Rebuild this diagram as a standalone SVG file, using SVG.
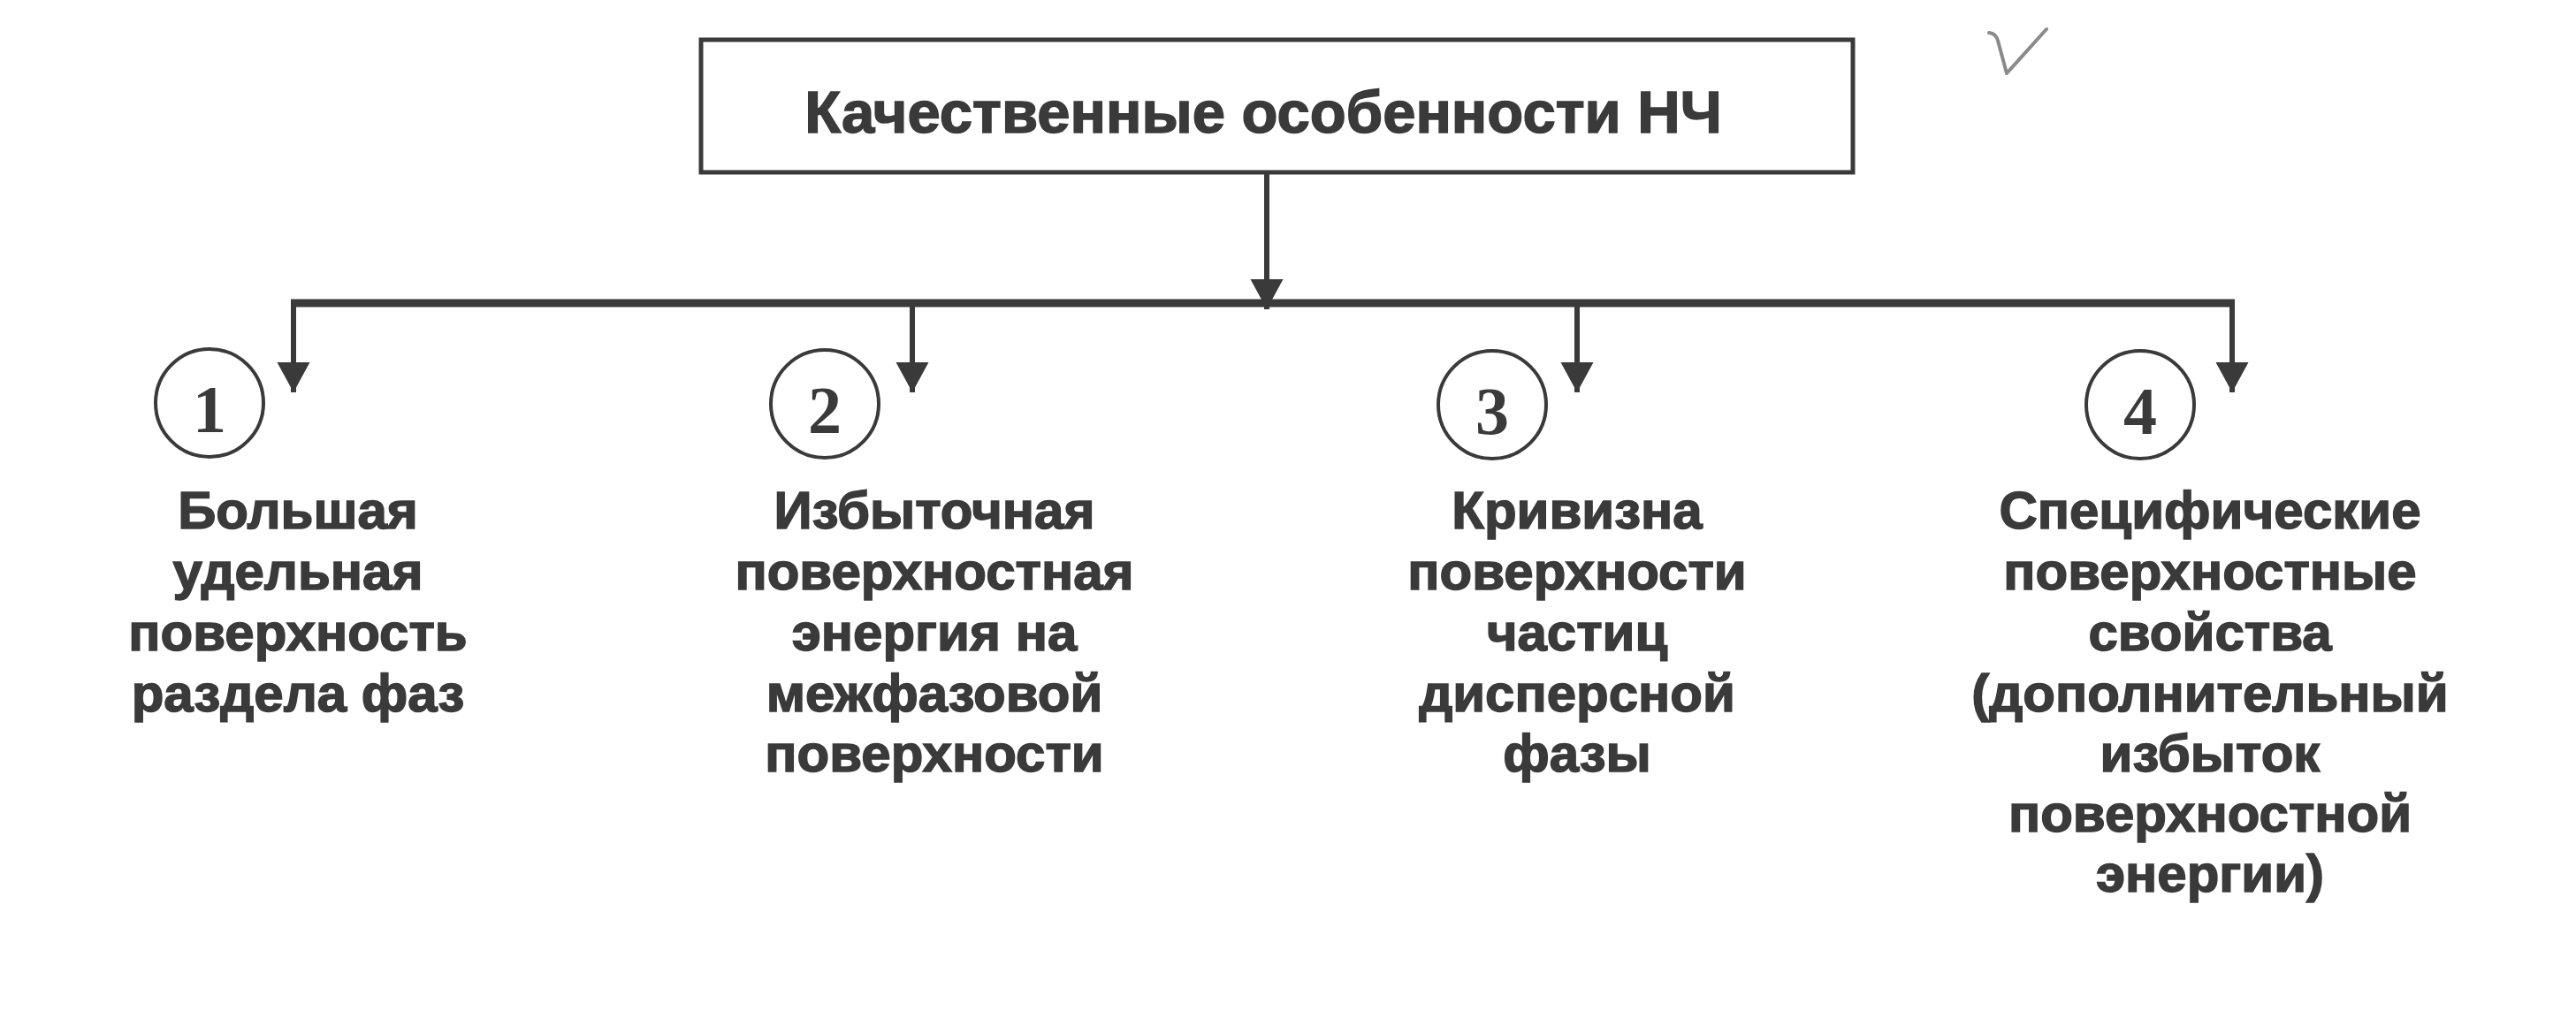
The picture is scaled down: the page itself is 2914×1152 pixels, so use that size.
<svg xmlns="http://www.w3.org/2000/svg" width="2914" height="1152" viewBox="0 0 2914 1152">
<style>
.ln{stroke:#3a3a3a;fill:none;stroke-linecap:butt}
.box{fill:#ffffff;stroke:#3a3a3a;stroke-width:5}
.circ{fill:#ffffff;stroke:#3a3a3a;stroke-width:4}
.t{font-family:"Liberation Sans",Arial,sans-serif;font-weight:bold;fill:#3a3a3a;stroke:#3a3a3a;stroke-width:1.5;text-anchor:middle}
.lab{font-size:60px}
.title{font-size:67px}
.num{font-family:"Liberation Serif","Times New Roman",serif;font-weight:bold;font-size:76px;fill:#3a3a3a;text-anchor:middle}
</style>
<defs>
<marker id="arr" markerUnits="userSpaceOnUse" markerWidth="36" markerHeight="38" refX="34" refY="18.5" orient="auto" viewBox="0 0 36 38">
<path d="M0,0 L34,18.5 L0,37 z" fill="#3a3a3a"/>
</marker>
</defs>
<rect width="2914" height="1152" fill="#ffffff"/>

<g id="connectors">
<line class="ln" x1="1433" y1="195" x2="1433" y2="350" stroke-width="6" marker-end="url(#arr)"/>
<line class="ln" x1="329" y1="343" x2="2528" y2="343" stroke-width="9"/>
<line class="ln" x1="332" y1="343" x2="332" y2="444" stroke-width="6" marker-end="url(#arr)"/>
<line class="ln" x1="1032" y1="343" x2="1032" y2="444" stroke-width="6" marker-end="url(#arr)"/>
<line class="ln" x1="1784" y1="343" x2="1784" y2="444" stroke-width="6" marker-end="url(#arr)"/>
<line class="ln" x1="2525" y1="343" x2="2525" y2="444" stroke-width="6" marker-end="url(#arr)"/>
</g>

<g id="root">
<rect class="box" x="793" y="45" width="1303" height="150"/>
<text class="t title" x="1429" y="150">Качественные особенности НЧ</text>
</g>

<g id="node1">
<circle class="circ" cx="237" cy="456" r="61"/>
<text class="num" x="237" y="489">1</text>
<text class="t lab" x="337"><tspan x="337" y="598">Большая</tspan><tspan x="337" y="667">удельная</tspan><tspan x="337" y="736">поверхность</tspan><tspan x="337" y="805">раздела фаз</tspan></text>
</g>

<g id="node2">
<circle class="circ" cx="933" cy="457" r="61"/>
<text class="num" x="933" y="490">2</text>
<text class="t lab" x="1057"><tspan x="1057" y="598">Избыточная</tspan><tspan x="1057" y="667">поверхностная</tspan><tspan x="1057" y="736">энергия на</tspan><tspan x="1057" y="805">межфазовой</tspan><tspan x="1057" y="873">поверхности</tspan></text>
</g>

<g id="node3">
<circle class="circ" cx="1688" cy="458" r="61"/>
<text class="num" x="1688" y="491">3</text>
<text class="t lab" x="1784"><tspan x="1784" y="598">Кривизна</tspan><tspan x="1784" y="667">поверхности</tspan><tspan x="1784" y="736">частиц</tspan><tspan x="1784" y="805">дисперсной</tspan><tspan x="1784" y="873">фазы</tspan></text>
</g>

<g id="node4">
<circle class="circ" cx="2421" cy="458" r="61"/>
<text class="num" x="2421" y="491">4</text>
<text class="t lab" x="2500"><tspan x="2500" y="598">Специфические</tspan><tspan x="2500" y="667">поверхностные</tspan><tspan x="2500" y="736">свойства</tspan><tspan x="2500" y="805">(дополнительный</tspan><tspan x="2500" y="873">избыток</tspan><tspan x="2500" y="941">поверхностной</tspan><tspan x="2500" y="1009">энергии)</tspan></text>
</g>

<path id="checkmark" d="M2250,37 Q2258,38 2260,46 L2270,83 L2315,33" fill="none" stroke="#8a8a8a" stroke-width="4" stroke-linecap="round" stroke-linejoin="round"/>
</svg>
